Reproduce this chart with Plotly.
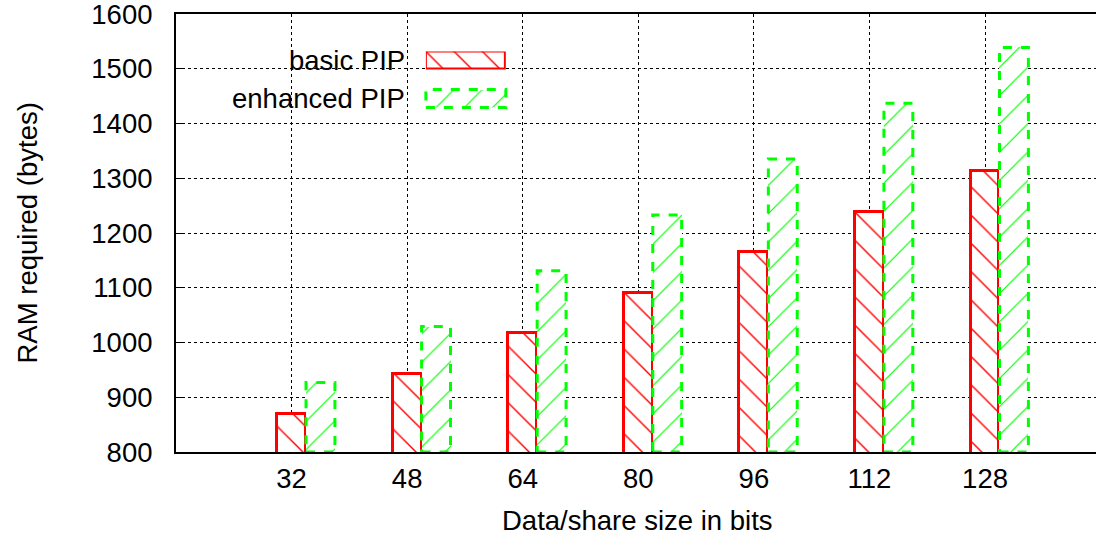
import plotly.graph_objects as go

# data
sizes = ["32", "48", "64", "80", "96", "112", "128"]
basic_pip = [869, 943, 1017, 1091, 1165, 1239, 1313]
enhanced_pip = [927, 1029, 1131, 1233, 1335, 1437, 1539]
y_ticks = [800, 900, 1000, 1100, 1200, 1300, 1400, 1500, 1600]

RED = "#ff0000"
GREEN = "#00ff00"
FONT = "Liberation Sans, Arial, sans-serif"
FS = 27.5
BAR_W = 0.25

xs = list(range(len(sizes)))

fig = go.Figure()

# basic PIP: solid red outline, "\" hatch
fig.add_trace(go.Bar(
    x=xs, y=basic_pip, width=BAR_W, offset=-BAR_W / 2,
    name="basic PIP", showlegend=False,
    marker=dict(
        color="white",
        line=dict(color=RED, width=3),
        pattern=dict(shape="\\", fgcolor=RED, bgcolor="white",
                     fillmode="replace", size=20, solidity=0.07),
    ),
))

# enhanced PIP: dashed green outline (drawn as shapes), "/" hatch
fig.add_trace(go.Bar(
    x=xs, y=enhanced_pip, width=BAR_W, offset=BAR_W / 2,
    name="enhanced PIP", showlegend=False,
    marker=dict(
        color="white",
        line=dict(width=0),
        pattern=dict(shape="/", fgcolor=GREEN, bgcolor="white",
                     fillmode="replace", size=20, solidity=0.06),
    ),
))
for i, v in zip(xs, enhanced_pip):
    fig.add_shape(type="rect", xref="x", yref="y",
                  x0=i + BAR_W / 2, x1=i + 1.5 * BAR_W, y0=y_ticks[0], y1=v,
                  line=dict(color=GREEN, width=3, dash="dash"), layer="above")

# ---- hand-made key (text left, swatch right like gnuplot) ----
fig.add_trace(go.Bar(x=[0.5], y=[1], width=1, xaxis="x2", yaxis="y2",
                     showlegend=False, hoverinfo="skip",
                     marker=dict(color="white", line=dict(color=RED, width=3),
                                 pattern=dict(shape="\\", fgcolor=RED, bgcolor="white",
                                              fillmode="replace", size=20, solidity=0.07))))
fig.add_trace(go.Bar(x=[0.5], y=[1], width=1, xaxis="x3", yaxis="y3",
                     showlegend=False, hoverinfo="skip",
                     marker=dict(color="white", line=dict(width=0),
                                 pattern=dict(shape="/", fgcolor=GREEN, bgcolor="white",
                                              fillmode="replace", size=20, solidity=0.06))))
fig.add_shape(type="rect", xref="x3 domain", yref="y3 domain", x0=0, x1=1, y0=0, y1=1,
              line=dict(color=GREEN, width=3, dash="dash"), layer="above")

key_x = [0.2716, 0.3585]
hidden = dict(visible=False, fixedrange=True)
fig.update_layout(
    xaxis2=dict(domain=key_x, range=[0, 1], anchor="y2", **hidden),
    yaxis2=dict(domain=[0.8733, 0.9144], range=[0, 1], anchor="x2", **hidden),
    xaxis3=dict(domain=key_x, range=[0, 1], anchor="y3", **hidden),
    yaxis3=dict(domain=[0.7865, 0.8276], range=[0, 1], anchor="x3", **hidden),
)
for label, yy in [("basic PIP", 0.8938), ("enhanced PIP", 0.8071)]:
    fig.add_annotation(text=label, xref="paper", yref="paper", x=0.2515, y=yy,
                       xanchor="right", yanchor="middle", showarrow=False,
                       font=dict(size=FS, color="black", family=FONT))

# axis titles
fig.add_annotation(text="Data/share size in bits", xref="paper", yref="paper",
                   x=0.5014, y=-0.1575, xanchor="center", yanchor="middle",
                   showarrow=False, font=dict(size=FS, color="black", family=FONT))
fig.add_annotation(text="RAM required (bytes)", xref="paper", yref="paper",
                   x=-0.1625, y=0.5, xanchor="center", yanchor="middle", textangle=-90,
                   showarrow=False, font=dict(size=FS, color="black", family=FONT))

fig.update_layout(
    width=1096, height=539,
    margin=dict(l=175.5, r=0, t=14, b=87, autoexpand=False),
    plot_bgcolor="white", paper_bgcolor="white",
    barmode="overlay", bargap=0,
    font=dict(family=FONT, size=FS, color="black"),
    xaxis=dict(
        range=[-1, 6.96], tickvals=xs, ticktext=sizes,
        showgrid=True, gridcolor="black", gridwidth=1, griddash="dot",
        showline=True, linecolor="black", linewidth=2, mirror=True,
        ticks="", ticklabelstandoff=1, zeroline=False, fixedrange=True,
    ),
    yaxis=dict(
        range=[800, 1600], tickvals=y_ticks,
        showgrid=True, gridcolor="black", gridwidth=1, griddash="dot",
        showline=True, linecolor="black", linewidth=2, mirror=False,
        ticks="inside", ticklen=7, tickwidth=1, tickcolor="black",
        ticklabelstandoff=16, ticklabeloverflow="allow",
        zeroline=False, fixedrange=True,
    ),
)

# plotly's page keeps the browser's default 8px body margin; drop it
fig.write_html("out.html", config={"displayModeBar": False},
               post_script="document.body.style.margin='0';")
